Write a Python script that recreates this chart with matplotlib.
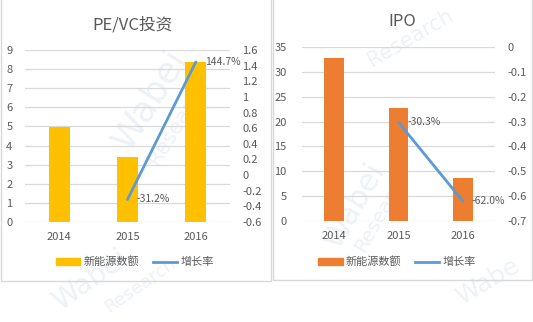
import matplotlib
matplotlib.use("Agg")
import matplotlib.pyplot as plt
from matplotlib.patches import Rectangle
from matplotlib.lines import Line2D
from matplotlib.ticker import FuncFormatter

plt.rcParams['font.family'] = ['Noto Sans CJK SC', 'DejaVu Sans']

# Data
years = ["2014", "2015", "2016"]
pevc_amount = [4.95, 3.4, 8.35]
pevc_growth = [None, -0.312, 1.447]
pevc_growth_labels = ["", "-31.2%", "144.7%"]
ipo_amount = [32.7, 22.8, 8.6]
ipo_growth = [None, -0.303, -0.620]
ipo_growth_labels = ["", "-30.3%", "-62.0%"]
titles = ["PE/VC投资", "IPO"]
legend_bar = "新能源数额"
legend_line = "增长率"

W, H = 533, 322
fig = plt.figure(figsize=(W / 100, H / 100), dpi=100)
fig.patch.set_facecolor("white")

TXT = "#595959"
GRID = "#d9d9d9"
LINE = "#5b9bd5"


def px_axes(x0, y0, x1, y1):
    return fig.add_axes([x0 / W, (H - y1) / H, (x1 - x0) / W, (y1 - y0) / H])


def fmt_g(v, pos):
    s = f"{v:.1f}".rstrip("0").rstrip(".")
    return "0" if s in ("-0", "0") else s


# Faint watermark
wm = dict(color="#eef2f6", zorder=0, ha="center", va="center",
          family="DejaVu Sans", transform=fig.transFigure)
for (x, y, s, rot, fs) in [(150 / W, 1 - 100 / H, "Wabei", 58, 26),
                           (178 / W, 1 - 122 / H, "Research", 58, 15),
                           (90 / W, 1 - 280 / H, "Wabei", 35, 20),
                           (140 / W, 1 - 285 / H, "Research", 35, 13),
                           (410 / W, 1 - 38 / H, "Research", 30, 15),
                           (355 / W, 1 - 205 / H, "Wabei", 60, 22),
                           (382 / W, 1 - 212 / H, "Research", 60, 14),
                           (488 / W, 1 - 282 / H, "Wabe", 30, 18)]:
    fig.text(x, y, s, rotation=rot, fontsize=fs, **wm)

# Panel borders
for (x0, y0, x1, y1) in [(0.5, -2, 270.5, 281), (272.5, -2, 532, 280)]:
    fig.patches.append(Rectangle((x0 / W, (H - y1) / H), (x1 - x0) / W, (y1 - y0) / H,
                                 transform=fig.transFigure, fill=False,
                                 edgecolor=GRID, lw=1.0, zorder=1))


def panel(rect, amounts, growth, glabels, color, ylim, yticks, y2lim, y2ticks,
          title, title_xy, lpad, rpad, legend_xy):
    ax = px_axes(*rect)
    ax.set_zorder(2)
    ax.patch.set_alpha(0)
    x = list(range(len(years)))
    ax.bar(x, amounts, width=0.31, color=color, zorder=3)
    ax.set_xlim(-0.5, 2.5)
    ax.set_ylim(*ylim)
    ax.set_yticks(yticks)
    ax.set_xticks(x)
    ax.set_xticklabels(years)
    ax.grid(axis="y", color=GRID, lw=0.9, zorder=0)
    ax.set_axisbelow(True)
    for sp in ax.spines.values():
        sp.set_visible(False)
    ax.tick_params(axis="both", length=0, colors=TXT, labelsize=8)
    ax.tick_params(axis="y", pad=lpad)
    ax.tick_params(axis="x", pad=7)

    ax2 = ax.twinx()
    gx = [i for i, g in enumerate(growth) if g is not None]
    gy = [g for g in growth if g is not None]
    ax2.plot(gx, gy, color=LINE, lw=2.0, zorder=4, solid_capstyle="round")
    ax2.set_ylim(*y2lim)
    ax2.set_yticks(y2ticks)
    ax2.yaxis.set_major_formatter(FuncFormatter(fmt_g))
    for sp in ax2.spines.values():
        sp.set_visible(False)
    ax2.tick_params(axis="y", length=0, colors=TXT, labelsize=8, pad=rpad)
    for i, g in enumerate(growth):
        if g is not None:
            ax2.annotate(glabels[i], (i, g), xytext=(6.5, 0), textcoords="offset points",
                         ha="left", va="center", fontsize=7.5, color=TXT)

    fig.text(title_xy[0] / W, 1 - title_xy[1] / H, title, ha="center", va="center",
             fontsize=12, color=TXT)

    handles = [Rectangle((0, 0), 1, 1, color=color),
               Line2D([0], [0], color=LINE, lw=2.0)]
    fig.legend(handles, [legend_bar, legend_line], loc="center",
               bbox_to_anchor=(legend_xy[0] / W, 1 - legend_xy[1] / H),
               ncol=2, frameon=False, fontsize=8, labelcolor=TXT,
               handlelength=2.2, handleheight=0.6, handletextpad=0.3,
               columnspacing=1.2)


panel((25, 50, 230, 222), pevc_amount, pevc_growth, pevc_growth_labels, "#ffc000",
      (0, 9), range(0, 10), (-0.6, 1.6), [round(-0.6 + 0.2 * i, 1) for i in range(12)],
      titles[0], (133, 25), 9, 9, (135, 262))

panel((302, 47, 495, 221), ipo_amount, ipo_growth, ipo_growth_labels, "#ed7d31",
      (0, 35), range(0, 40, 5), (-0.7, 0.0), [round(-0.7 + 0.1 * i, 1) for i in range(8)],
      titles[1], (402, 22), 11, 9, (397, 262))

fig.savefig("out.png", dpi=100, facecolor="white")
